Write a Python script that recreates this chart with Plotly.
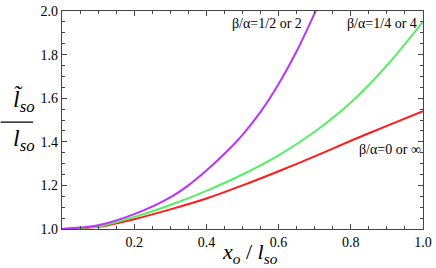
import plotly.graph_objects as go

x_red = [0.0, 0.1, 0.2, 0.3, 0.4, 0.5, 0.6, 0.7, 0.8, 0.9, 1.0]
y_red = [1.0, 1.01, 1.045, 1.09, 1.14, 1.20, 1.265, 1.333, 1.405, 1.473, 1.541]

x_green = [0.0, 0.1, 0.2, 0.3, 0.4, 0.5, 0.6, 0.7, 0.8, 0.9, 1.0]
y_green = [1.0, 1.012, 1.055, 1.11, 1.175, 1.25, 1.338, 1.446, 1.58, 1.75, 1.951]

x_purple = [0.0, 0.1, 0.2, 0.3, 0.35, 0.4, 0.45, 0.5, 0.55, 0.6, 0.65, 0.7, 0.75]
y_purple = [1.0, 1.017, 1.068, 1.145, 1.2, 1.268, 1.345, 1.432, 1.537, 1.665, 1.815, 1.99, 2.18]

labels = ["β/α=1/2 or 2", "β/α=1/4 or 4", "β/α=0 or ∞"]
label_x = [0.671, 0.989, 1.0]
label_y = [1.942, 1.942, 1.364]

x_ticks = [0.2, 0.4, 0.6, 0.8, 1.0]
y_ticks = [1.0, 1.2, 1.4, 1.6, 1.8, 2.0]

SERIF = "Liberation Serif, Times New Roman, serif"
AX = "#444444"

fig = go.Figure()
for xs, ys, col in [(x_red, y_red, "#ff1a1a"), (x_green, y_green, "#55ee66"),
                    (x_purple, y_purple, "#bb33ff")]:
    fig.add_trace(go.Scatter(x=xs, y=ys, mode="lines",
                             line=dict(color=col, width=2, shape="spline", smoothing=0.8),
                             showlegend=False, hoverinfo="skip"))

for t, lx, ly in zip(labels, label_x, label_y):
    fig.add_annotation(x=lx, y=ly, xref="x", yref="y", text=t, showarrow=False,
                       xanchor="right", yanchor="middle",
                       font=dict(family=SERIF, size=14, color="black"))

# axis titles
fig.add_annotation(xref="paper", yref="paper", x=0.52, y=-0.108, yanchor="middle",
                   text="<i>x</i><sub><i>o</i></sub> / <i>l</i><sub><i>so</i></sub>",
                   showarrow=False, font=dict(family=SERIF, size=22, color="black"))
fig.add_annotation(xref="paper", yref="paper", x=-0.14, y=0.51, yanchor="bottom",
                   text="<i>l̃</i><sub><i>so</i></sub>", showarrow=False,
                   font=dict(family=SERIF, size=24, color="black"))
fig.add_annotation(xref="paper", yref="paper", x=-0.14, y=0.485, yanchor="top",
                   text="<i>l</i><sub><i>so</i></sub>", showarrow=False,
                   font=dict(family=SERIF, size=24, color="black"))
fig.add_shape(type="line", xref="paper", yref="paper", x0=-0.17, x1=-0.08,
              y0=0.49, y1=0.49, line=dict(color="black", width=1.2))

axis_common = dict(showline=True, linecolor=AX, linewidth=1.2, mirror="allticks",
                   ticks="inside", ticklen=5, tickcolor=AX, tickwidth=1,
                   showgrid=False, zeroline=False, ticklabeloverflow="allow",
                   tickfont=dict(family=SERIF, size=14, color="black"),
                   minor=dict(ticks="inside", ticklen=3, tickcolor=AX, dtick=0.05))

fig.update_xaxes(range=[0, 1.0], tickvals=x_ticks, ticktext=[f"{v:.1f}" for v in x_ticks],
                 **axis_common)
fig.update_yaxes(range=[1.0, 2.0], tickvals=y_ticks, ticktext=[f"{v:.1f}" for v in y_ticks],
                 **axis_common)

fig.update_layout(width=436, height=268, margin=dict(l=62, r=8, t=4, b=39),
                  plot_bgcolor="white", paper_bgcolor="white")

fig.write_html("out.html", config={"displayModeBar": False},
               post_script="document.body.style.margin='0';")
